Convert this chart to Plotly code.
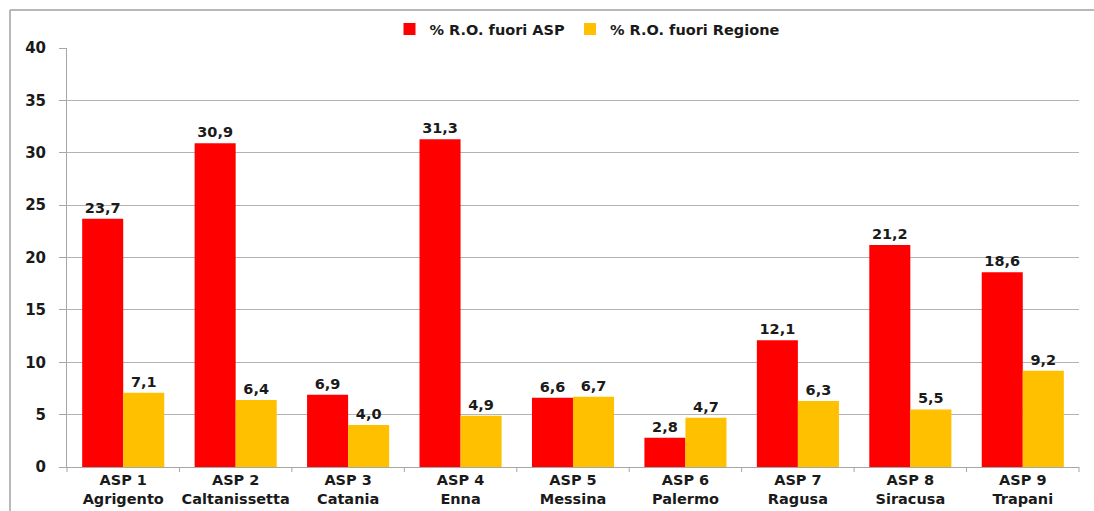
import plotly.graph_objects as go

categories = ["ASP 1<br>Agrigento", "ASP 2<br>Caltanissetta", "ASP 3<br>Catania", "ASP 4<br>Enna",
              "ASP 5<br>Messina", "ASP 6<br>Palermo", "ASP 7<br>Ragusa", "ASP 8<br>Siracusa", "ASP 9<br>Trapani"]
fuori_asp = [23.7, 30.9, 6.9, 31.3, 6.6, 2.8, 12.1, 21.2, 18.6]
fuori_regione = [7.1, 6.4, 4.0, 4.9, 6.7, 4.7, 6.3, 5.5, 9.2]
y_ticks = [0, 5, 10, 15, 20, 25, 30, 35, 40]

FONT = "DejaVu Sans"
W, H = 1094, 511
L, R, T, B = 67, 15, 48, 44

def bold(size):
    return dict(family=FONT, size=size, color="#1a1a1a", weight="bold")

fig = go.Figure()
fig.add_trace(go.Bar(x=categories, y=fuori_asp, name="% R.O. fuori ASP",
                     marker=dict(color="#FF0000", line=dict(width=0)),
                     texttemplate="%{y:.1f}", textposition="outside",
                     textfont=bold(14.5), cliponaxis=False))
fig.add_trace(go.Bar(x=categories, y=fuori_regione, name="% R.O. fuori Regione",
                     marker=dict(color="#FFC000", line=dict(width=0)),
                     texttemplate="%{y:.1f}", textposition="outside",
                     textfont=bold(14.5), cliponaxis=False))

pw = W - L - R
ph = H - T - B
def px_x(p):
    return (p - L) / pw
def px_y(p):
    return (H - B - p) / ph

fig.update_layout(
    width=W, height=H,
    margin=dict(l=L, r=R, t=T, b=B, pad=0, autoexpand=False),
    paper_bgcolor="white", plot_bgcolor="white",
    separators=",.",
    barmode="group", bargap=0.27, bargroupgap=0,
    font=bold(14),
    legend=dict(orientation="h", x=587 / W, xref="container", xanchor="center",
                y=1 - 29 / H, yref="container", yanchor="middle",
                font=bold(14.5), itemwidth=30, traceorder="normal"),
    xaxis=dict(showgrid=False, showline=True, linecolor="#a6a6a6", linewidth=1,
               ticks="", tickfont=bold(14.5), automargin=False),
    yaxis=dict(range=[0, 40], tickvals=y_ticks, showgrid=True, gridcolor="#b3b3b3", gridwidth=1,
               showline=True, linecolor="#a6a6a6", linewidth=1,
               ticks="outside", ticklen=7, tickcolor="#a6a6a6",
               tickfont=bold(15), ticklabelstandoff=10, zeroline=False, automargin=False),
    showlegend=True,
)

shapes = []
for i in range(len(categories) + 1):
    xp = i / len(categories)
    shapes.append(dict(type="line", xref="paper", yref="paper", x0=xp, x1=xp,
                       y0=0, y1=px_y(H - B + 5), line=dict(color="#a6a6a6", width=1)))
shapes.append(dict(type="line", xref="paper", yref="paper", x0=px_x(10), x1=px_x(W + 5),
                   y0=px_y(10), y1=px_y(10), line=dict(color="#a0a0a0", width=1.5)))
shapes.append(dict(type="line", xref="paper", yref="paper", x0=px_x(10), x1=px_x(10),
                   y0=px_y(10), y1=px_y(H + 5), line=dict(color="#a0a0a0", width=1.5)))
fig.update_layout(shapes=shapes)

fig.write_html("out.html", config={"displayModeBar": False},
               post_script="document.body.style.margin='0';document.body.style.overflow='hidden';")
